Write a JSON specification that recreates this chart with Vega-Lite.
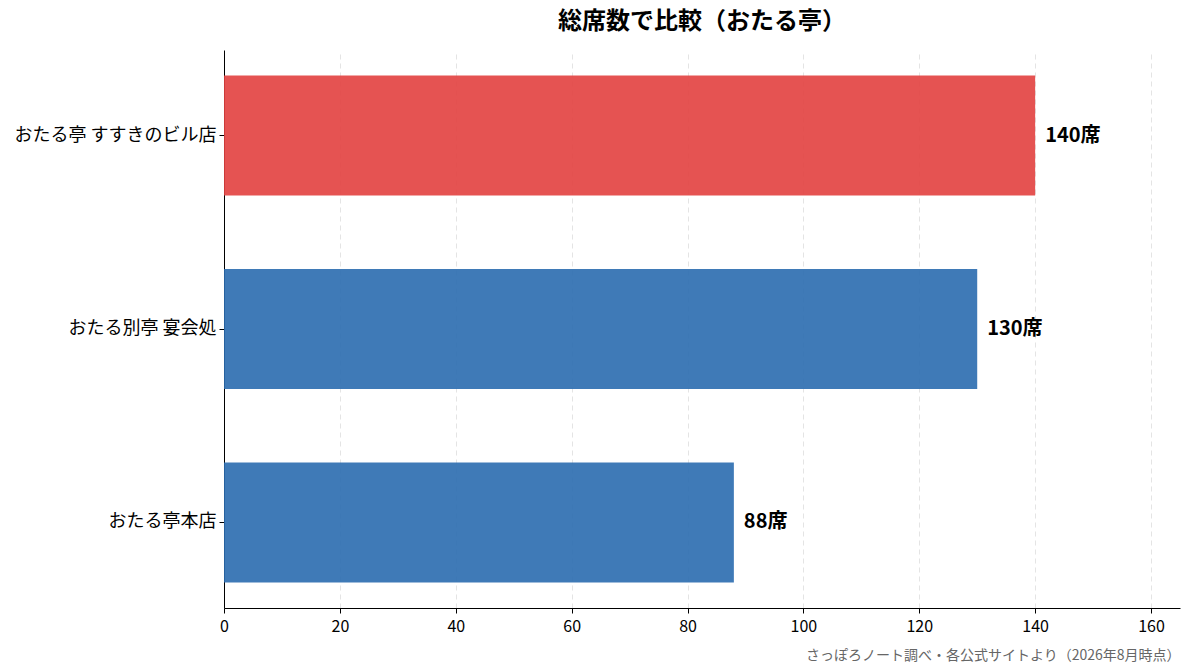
{
  "$schema": "https://vega.github.io/schema/vega-lite/v6.json",
  "width": 956,
  "height": 558,
  "autosize": {"type": "none"},
  "padding": {"left": 224, "top": 50, "right": 13, "bottom": 64},
  "background": "white",
  "title": {
    "text": "総席数で比較（おたる亭）",
    "font": "Noto Sans CJK JP",
    "fontSize": 24,
    "fontWeight": "bold",
    "color": "#000000",
    "anchor": "middle",
    "offset": 16
  },
  "config": {
    "font": "Noto Sans CJK JP",
    "view": {"stroke": null}
  },
  "data": {
    "values": [
      {"store": "おたる亭 すすきのビル店", "seats": 140, "highlight": "yes"},
      {"store": "おたる別亭 宴会処", "seats": 130, "highlight": "no"},
      {"store": "おたる亭本店", "seats": 88, "highlight": "no"}
    ]
  },
  "encoding": {
    "y": {
      "field": "store",
      "type": "nominal",
      "sort": ["おたる亭 すすきのビル店", "おたる別亭 宴会処", "おたる亭本店"],
      "scale": {"paddingInner": 0.38, "paddingOuter": 0.132},
      "axis": {
        "title": null,
        "labelFontSize": 18,
        "labelLimit": 300,
        "labelColor": "#000000",
        "labelPadding": 3,
        "tickSize": 5,
        "tickColor": "#000000",
        "domainColor": "#000000",
        "grid": false
      }
    },
    "x": {
      "field": "seats",
      "type": "quantitative",
      "scale": {"domain": [0, 165], "nice": false},
      "axis": {
        "values": [0, 20, 40, 60, 80, 100, 120, 140, 160],
        "title": "さっぽろノート調べ・各公式サイトより（2026年8月時点）",
        "titleAnchor": "end",
        "titleAlign": "right",
        "titleFontSize": 14,
        "titleFontWeight": "normal",
        "titleColor": "#666666",
        "titlePadding": 14,
        "labelFontSize": 16,
        "labelPadding": 5,
        "labelFlush": false,
        "labelColor": "#000000",
        "tickSize": 5,
        "tickColor": "#000000",
        "domainColor": "#000000",
        "grid": true,
        "gridDash": [5, 4],
        "gridColor": "#dddddd",
        "gridOpacity": 0.8
      }
    }
  },
  "layer": [
    {
      "mark": {"type": "bar", "opacity": 0.9},
      "encoding": {
        "color": {
          "field": "highlight",
          "type": "nominal",
          "scale": {"domain": ["yes", "no"], "range": ["#e2403f", "#2a6caf"]},
          "legend": null
        }
      }
    },
    {
      "mark": {
        "type": "text",
        "align": "left",
        "baseline": "middle",
        "dx": 10,
        "fontSize": 20,
        "fontWeight": "bold",
        "color": "#000000"
      },
      "encoding": {
        "text": {"field": "label"}
      },
      "transform": [{"calculate": "datum.seats + '席'", "as": "label"}]
    }
  ]
}
